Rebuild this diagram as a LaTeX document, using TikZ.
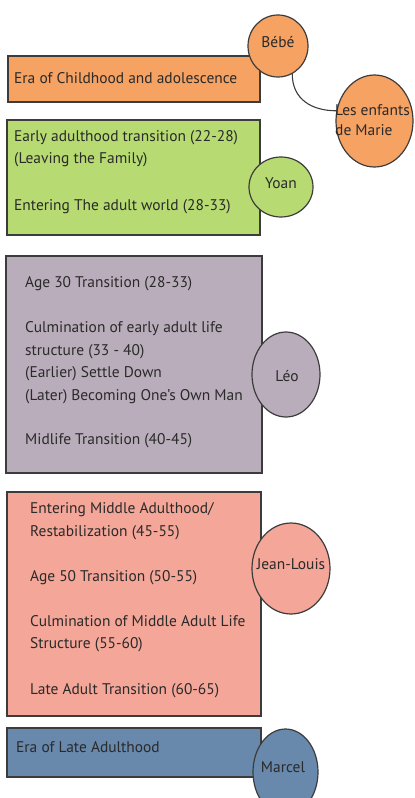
\documentclass[tikz,border=0pt]{standalone}
\usepackage{fontspec}
\usetikzlibrary{shapes.geometric}
\setmainfont{PT Sans}
\definecolor{corange}{HTML}{F5A263}
\definecolor{cgreen}{HTML}{B7DB72}
\definecolor{cpurple}{HTML}{BAADBB}
\definecolor{csalmon}{HTML}{F4A698}
\definecolor{cblue}{HTML}{6888AC}
\definecolor{cline}{HTML}{3C3C3C}
\definecolor{ctext}{HTML}{2A2A2A}
\newcommand{\fsz}{\fontsize{15.5}{20}\selectfont}
\begin{document}
\begin{tikzpicture}[x=1bp,y=-1bp,
  era/.style={draw=cline,line width=1.2bp},
  bubble/.style={draw=cline,line width=1.2bp,ellipse,inner sep=0pt},
  btext/.style={anchor=base,text=ctext,font=\fsz,inner sep=0pt},
  lbl/.style={anchor=base west,inner sep=0pt,text=ctext,font=\fsz}]
\useasboundingbox (0,0) rectangle (414,798);
% rectangles
\draw[era,fill=corange] (8,56) rectangle (260,102);
\draw[era,fill=cgreen] (7,120) rectangle (260,235);
\draw[era,fill=cpurple] (6,256) rectangle (262,473);
\draw[era,fill=csalmon] (7,492) rectangle (261,716);
\draw[era,fill=cblue] (7,728) rectangle (261,777);
% texts
\node[lbl] (t1) at (14,83) {Era of Childhood and adolescence};
\node[lbl] (t2) at (14,141) {Early adulthood transition (22-28)};
\node[lbl] (t3) at (14,163) {(Leaving the Family)};
\node[lbl] (t4) at (14,210) {Entering The adult world (28-33)};
\node[lbl] (t5) at (25,287) {Age 30 Transition (28-33)};
\node[lbl] (t6) at (25,332) {Culmination of early adult life};
\node[lbl] (t7) at (25,355) {structure (33 - 40)};
\node[lbl] (t8) at (25,377) {(Earlier) Settle Down};
\node[lbl] (t9) at (25,400) {(Later) Becoming One’s Own Man};
\node[lbl] (t10) at (25,444) {Midlife Transition (40-45)};
\node[lbl] (t11) at (30,513) {Entering Middle Adulthood/};
\node[lbl] (t12) at (30,536) {Restabilization (45-55)};
\node[lbl] (t13) at (30,581) {Age 50 Transition (50-55)};
\node[lbl] (t14) at (30,626) {Culmination of Middle Adult Life};
\node[lbl] (t15) at (30,648) {Structure (55-60)};
\node[lbl] (t16) at (30,694) {Late Adult Transition (60-65)};
\node[lbl] (t17) at (16,752) {Era of Late Adulthood};
% bubbles
\node[bubble,fill=corange,minimum width=60bp,minimum height=62bp] (bebe) at (278,46) {};
\node[btext] (bebet) at (278,48) {Bébé};
\node[bubble,fill=corange,minimum width=77bp,minimum height=92bp] (enf) at (374.5,121) {};
\node[lbl,align=left] (enft) at (335,135) {Les enfants\\de Marie};
\node[bubble,fill=cgreen,minimum width=64bp,minimum height=60bp] (yoan) at (281,187) {};
\node[btext] (yoant) at (281,188) {Yoan};
\node[bubble,fill=cpurple,minimum width=68bp,minimum height=85bp] (leo) at (286,374.5) {};
\node[btext] (leot) at (287,381) {Léo};
\node[bubble,fill=csalmon,minimum width=78bp,minimum height=91bp] (jl) at (291,568.5) {};
\node[btext] (jlt) at (291,569) {Jean-Louis};
\node[bubble,fill=cblue,minimum width=65bp,minimum height=86bp] (marcel) at (285.5,772) {};
\node[btext] (marcelt) at (283,772) {Marcel};
% connector
\draw[draw=cline,line width=1.1bp] (bebe.-63) .. controls +(0,25) and +(-25,0) .. (enf.165);
\end{tikzpicture}
\end{document}
